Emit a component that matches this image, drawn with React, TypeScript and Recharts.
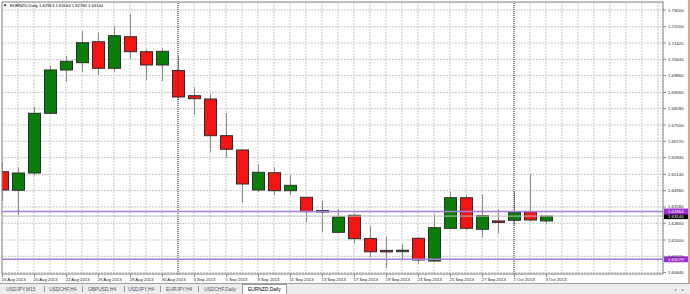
import React from 'react';
import { ComposedChart, Bar, XAxis, YAxis, CartesianGrid, ReferenceLine } from 'recharts';

const titleText = 'EURNZD,Daily';
const dates = [
  '16 Aug 2013', '19 Aug 2013', '20 Aug 2013', '21 Aug 2013', '22 Aug 2013', '23 Aug 2013',
  '26 Aug 2013', '27 Aug 2013', '28 Aug 2013', '29 Aug 2013', '30 Aug 2013',
  '2 Sep 2013', '3 Sep 2013', '4 Sep 2013', '5 Sep 2013', '6 Sep 2013',
  '9 Sep 2013', '10 Sep 2013', '11 Sep 2013', '12 Sep 2013', '13 Sep 2013',
  '16 Sep 2013', '17 Sep 2013', '18 Sep 2013', '19 Sep 2013', '20 Sep 2013',
  '23 Sep 2013', '24 Sep 2013', '25 Sep 2013', '26 Sep 2013', '27 Sep 2013',
  '30 Sep 2013', '1 Oct 2013', '2 Oct 2013', '3 Oct 2013',
];
const opens = [1.65267, 1.64378, 1.65205, 1.6806, 1.70131, 1.7048, 1.71484, 1.70212, 1.71723, 1.71006, 1.7037, 1.70107, 1.68901, 1.68744, 1.66989, 1.66305, 1.64392, 1.65219, 1.64358, 1.64043, 1.63411, 1.62369, 1.63182, 1.62072, 1.61498, 1.61441, 1.62082, 1.60996, 1.6256, 1.64023, 1.62512, 1.62909, 1.62943, 1.63354, 1.62913];
const highs = [1.65716, 1.65477, 1.68375, 1.70336, 1.708, 1.71996, 1.71914, 1.72249, 1.72809, 1.7112, 1.71168, 1.70814, 1.69303, 1.68968, 1.6806, 1.66338, 1.65621, 1.65477, 1.65109, 1.64057, 1.6388, 1.63483, 1.63258, 1.6267, 1.62158, 1.61795, 1.6213, 1.6323, 1.6431, 1.64153, 1.64186, 1.63469, 1.6431, 1.65157, 1.63144];
const lows = [1.63866, 1.63196, 1.65076, 1.68026, 1.69571, 1.70049, 1.69891, 1.70049, 1.70657, 1.69652, 1.69604, 1.68696, 1.68012, 1.66223, 1.65936, 1.63784, 1.64296, 1.64167, 1.64153, 1.62861, 1.62369, 1.62335, 1.61843, 1.61173, 1.60647, 1.61044, 1.60886, 1.60934, 1.6254, 1.62479, 1.6213, 1.62321, 1.62718, 1.62923, 1.62784];
const closes = [1.64392, 1.65205, 1.6806, 1.70131, 1.70547, 1.71436, 1.70212, 1.71771, 1.71006, 1.7037, 1.71025, 1.68839, 1.68758, 1.66989, 1.66338, 1.64679, 1.65238, 1.64358, 1.64616, 1.63354, 1.6334, 1.631, 1.62063, 1.61436, 1.61436, 1.61513, 1.61044, 1.62589, 1.64023, 1.6256, 1.63163, 1.62847, 1.63325, 1.62957, 1.63144];
const priceTicks = [1.73, 1.722, 1.7142, 1.7064, 1.6986, 1.6906, 1.6828, 1.675, 1.6672, 1.6594, 1.6514, 1.6436, 1.6358, 1.628, 1.62, 1.6122, 1.6044];
const levelLines = [1.63364, 1.61079];
const separatorDates = ['2 Sep 2013', '1 Oct 2013'];
const tabs = ['USDJPY,M15', 'USDCHF,H4', 'GBPUSD,H4', 'USDJPY,H4', 'EURJPY,H4', 'USDCHF,Daily', 'EURNZD,Daily'];

const data = dates.map((d, i) => ({
  i,
  date: d,
  open: opens[i],
  high: highs[i],
  low: lows[i],
  close: closes[i],
  range: [lows[i], highs[i]],
}));

const W = 690;
const H = 294;
const FONT = '"Liberation Sans", Arial, sans-serif';
const X_MAX = 41.3125;
const Y_DOMAIN: [number, number] = [1.603744, 1.733826];
const gridTicks = Array.from({ length: 42 }, (_, k) => k);
const last = data[data.length - 1];
const fmt = (v: number) => v.toFixed(5);

function Candle(props: any) {
  const { x, y, width, height, payload } = props;
  if (x == null || y == null || !payload) return null;
  const top = Math.min(y, y + height);
  const bot = Math.max(y, y + height);
  const k = (bot - top) / (payload.high - payload.low);
  const py = (v: number) => top + (payload.high - v) * k;
  const cx = Math.round(x + width / 2);
  const up = payload.close >= payload.open;
  let bTop = py(Math.max(payload.open, payload.close));
  let bBot = py(Math.min(payload.open, payload.close));
  if (bBot - bTop < 1.5) {
    const m = (bTop + bBot) / 2;
    bTop = m - 0.75;
    bBot = m + 0.75;
  }
  return (
    <g>
      <line x1={cx + 0.5} x2={cx + 0.5} y1={top} y2={bot} stroke="#8a8a8a" strokeWidth={1} />
      <rect x={cx - 5.5} y={bTop} width={12} height={bBot - bTop} fill={up ? '#0b7d0b' : '#f41414'} stroke="#2e2e2e" strokeWidth={1} />
    </g>
  );
}

function DateTick(props: any) {
  const { x, y, payload } = props;
  const i = payload.value;
  if (i % 2 !== 0 || i >= dates.length) return null;
  return (
    <g>
      <line x1={x + 0.5} x2={x + 0.5} y1={y - 3} y2={y} stroke="#8c8c8c" />
      <text x={x - 0.5} y={y + 4.3} fontSize={4.3} fontFamily={FONT} fill="#222" textAnchor="start">
        {dates[i]}
      </text>
    </g>
  );
}

function PriceTick(props: any) {
  const { x, y, payload } = props;
  return (
    <text x={x} y={y + 1.5} fontSize={4.3} fontFamily={FONT} fill="#222" textAnchor="start">
      {fmt(payload.value)}
    </text>
  );
}

function PriceBox(props: any) {
  const { viewBox, text, fill } = props;
  if (!viewBox) return null;
  const bx = viewBox.x + viewBox.width + 1;
  const by = viewBox.y;
  return (
    <g>
      <rect x={bx} y={by - 3} width={24} height={6} fill={fill} />
      <text x={bx + 4} y={by + 1.5} fontSize={4.3} fontFamily={FONT} fill="#fff" textAnchor="start">
        {text}
      </text>
    </g>
  );
}

const tabLefts = [6, 49, 88, 128, 166, 204, 248];
const sepXs = [44, 82, 124, 160, 198];

export default function App() {
  return (
    <div style={{ position: 'absolute', left: 0, top: 0, width: W, height: H, background: '#fff', overflow: 'hidden' }}>
      <ComposedChart width={W} height={H} data={data} margin={{ top: 2, right: 0, bottom: 0, left: 2 }}>
        <CartesianGrid stroke="#c9c9c9" strokeDasharray="2 1" />
        <XAxis
          type="number"
          dataKey="i"
          domain={[0, X_MAX]}
          ticks={gridTicks}
          interval={0}
          allowDataOverflow
          height={20}
          tick={<DateTick />}
          tickLine={false}
          tickSize={3}
          tickMargin={0}
          axisLine={{ stroke: '#8c8c8c' }}
        />
        <YAxis
          orientation="right"
          type="number"
          domain={Y_DOMAIN}
          ticks={priceTicks}
          interval={0}
          allowDataOverflow
          width={27}
          tick={<PriceTick />}
          tickSize={3}
          tickMargin={2}
          tickLine={{ stroke: '#8c8c8c' }}
          axisLine={{ stroke: '#8c8c8c' }}
        />
        <ReferenceLine x={0} stroke="#8c8c8c" />
        <ReferenceLine y={Y_DOMAIN[1]} stroke="#8c8c8c" />
        {separatorDates.map((d) => (
          <ReferenceLine key={d} x={dates.indexOf(d)} stroke="#3a3a3a" strokeDasharray="1 1" />
        ))}
        <Bar dataKey="range" barSize={12} shape={<Candle />} isAnimationActive={false} />
        <ReferenceLine y={last.close} stroke="#bdbdbd" label={<PriceBox text={fmt(last.close)} fill="#000" />} />
        {levelLines.map((v) => (
          <ReferenceLine key={v} y={v} stroke="#a27fdc" strokeWidth={1.5} label={<PriceBox text={fmt(v)} fill="#9b30d0" />} />
        ))}
      </ComposedChart>
      <svg width={W} height={H} style={{ position: 'absolute', left: 0, top: 0, pointerEvents: 'none' }}>
        <polygon points="3.5,4.5 6.5,4.5 5,6.5" fill="#000" />
        <text x={10} y={7.3} fontSize={4.2} fontFamily={FONT} fill="#000">
          {`${titleText}  ${fmt(last.open)} ${fmt(last.high)} ${fmt(last.low)} ${fmt(last.close)}`}
        </text>
        <rect x={688} y={0} width={2} height={283} fill="#d9ab88" />
        <rect x={0} y={283.5} width={W} height={11} fill="#ececec" />
        <line x1={0} x2={W} y1={283.5} y2={283.5} stroke="#a0a0a0" />
        {sepXs.map((sx) => (
          <line key={sx} x1={sx + 0.5} x2={sx + 0.5} y1={286} y2={292} stroke="#9a9a9a" />
        ))}
        <rect x={242.5} y={284.5} width={44} height={10} fill="#fff" stroke="#9a9a9a" />
        {tabs.map((t, k) => (
          <text key={t} x={tabLefts[k]} y={291} fontSize={4.9} fontFamily={FONT} fill={k === tabs.length - 1 ? '#000' : '#556'}>
            {t}
          </text>
        ))}
        <text x={674} y={291} fontSize={4} fontFamily={FONT} fill="#777">{'\u25C2'}</text>
        <text x={682} y={291} fontSize={4} fontFamily={FONT} fill="#777">{'\u25B8'}</text>
      </svg>
    </div>
  );
}
